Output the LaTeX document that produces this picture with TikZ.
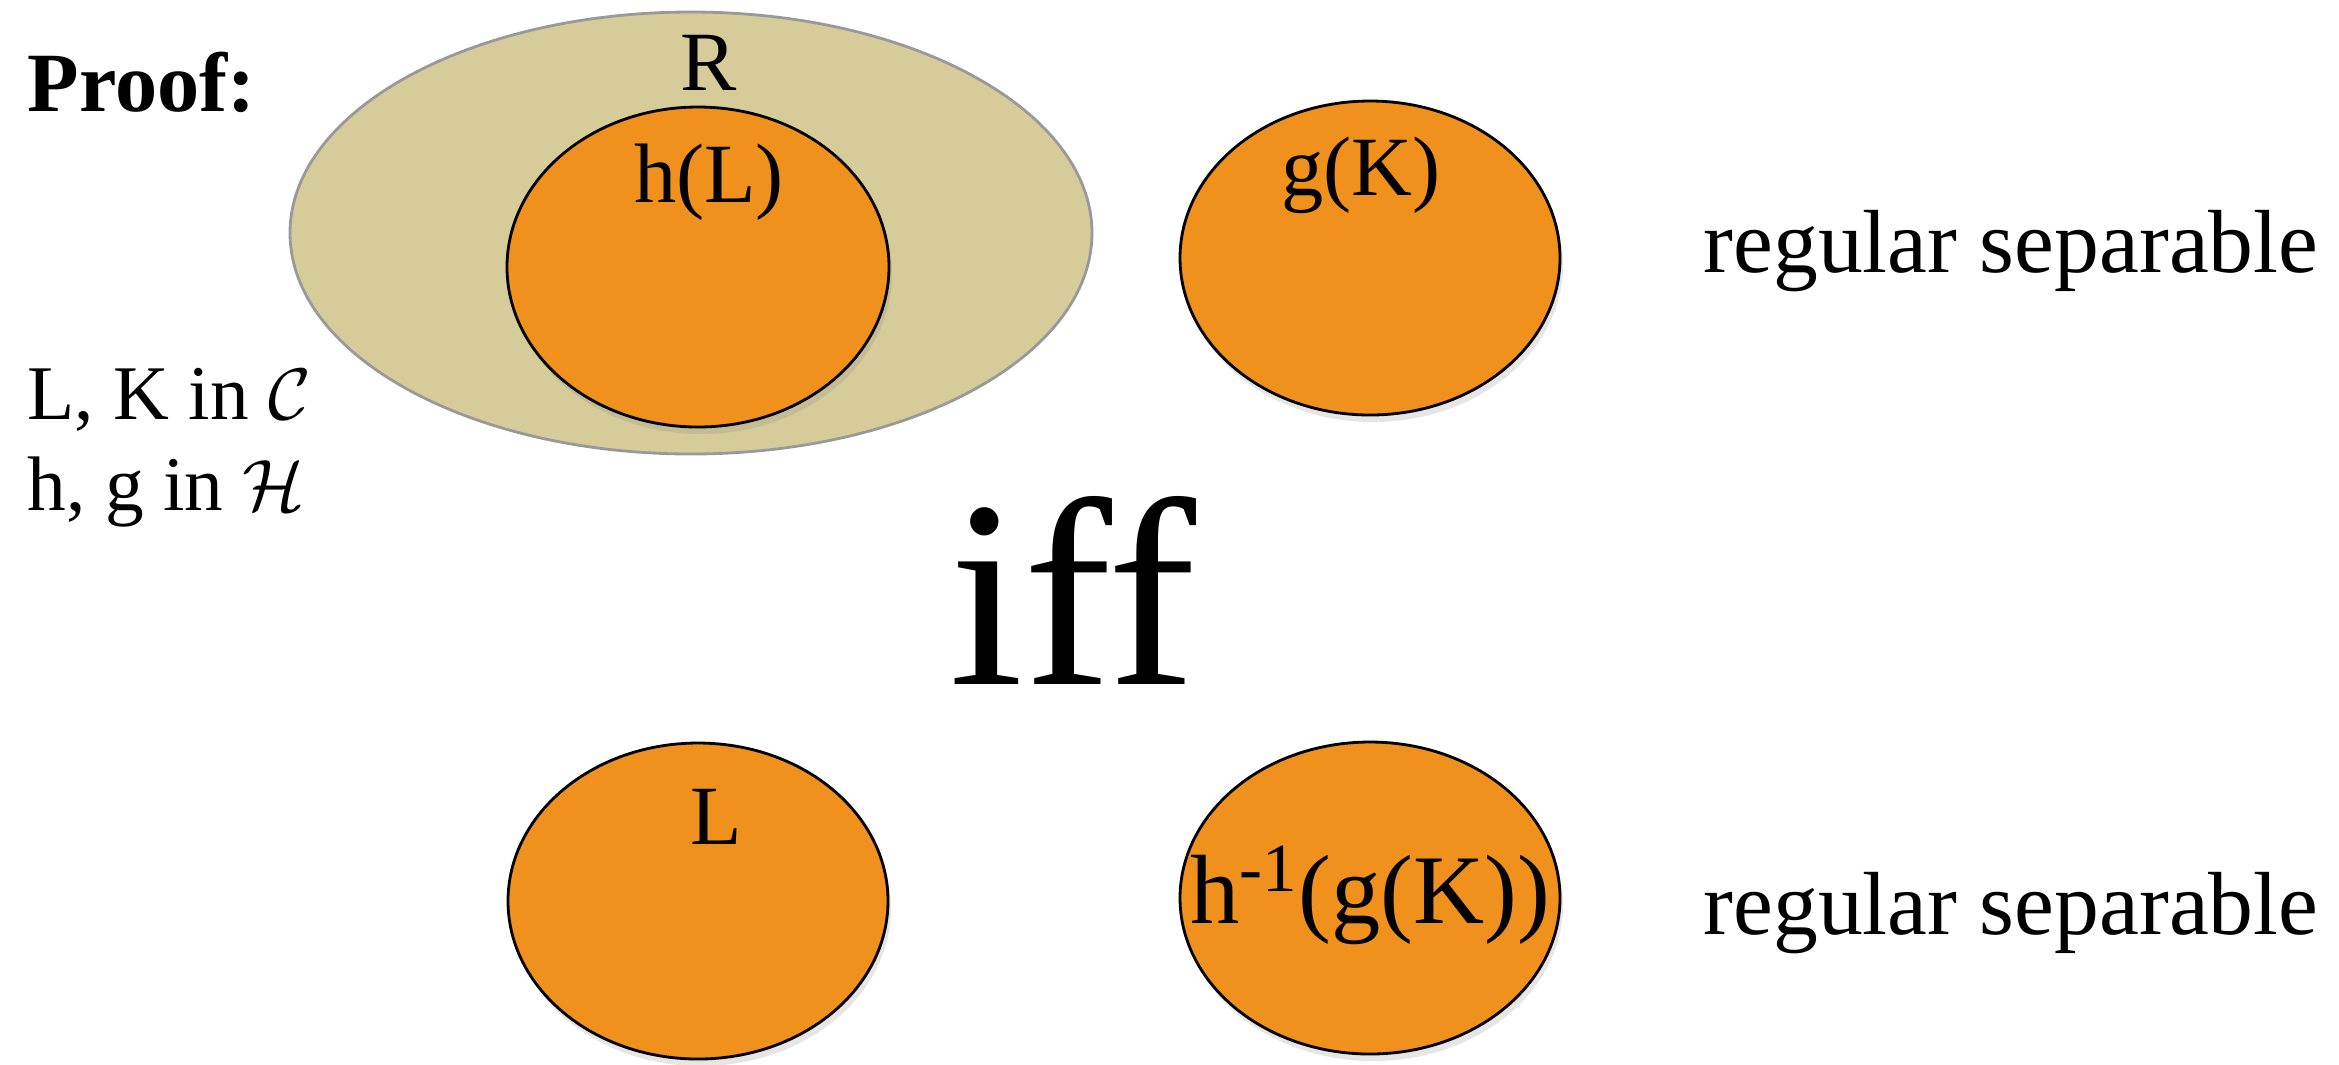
\documentclass[tikz,border=0pt]{standalone}
\usepackage{fontspec}
\setmainfont{Liberation Serif}
\usepackage{xcolor}
\usepackage{tikz}
\usetikzlibrary{positioning, shapes.geometric, shadows}

\definecolor{setorange}{RGB}{240,145,30}
\definecolor{settan}{RGB}{214,204,153}

\begin{document}
\begin{tikzpicture}[
            blob/.style={ellipse, draw=black, thick, fill=setorange, inner sep=0pt,
                         drop shadow={opacity=0.2, shadow xshift=0.3mm, shadow yshift=-0.7mm}},
            region/.style={ellipse, draw=gray!80, thick, fill=settan, inner sep=0pt},
            lbl/.style={font=\fontsize{24}{28}\selectfont, inner sep=0pt},
            side/.style={lbl, anchor=west}
        ]
            \useasboundingbox (0,0) rectangle (23.39,-10.64);

            % Top row
            \node[region, minimum width=8.02cm, minimum height=4.42cm] (r) at (6.91,-2.33) {};
            \node[lbl] (rl) at (7.09,-0.63) {R};
            \node[blob, minimum width=3.82cm, minimum height=3.2cm] (hl) at (6.98,-2.67) {};
            \node[lbl] (hll) at (7.09,-1.82) {h(L)};
            \node[blob, minimum width=3.8cm, minimum height=3.14cm] (gk) at (13.70,-2.58) {};
            \node[lbl] (gkl) at (13.61,-1.75) {g(K)};
            \node[side, font=\fontsize{25.5}{30}\selectfont] (sep1) at (17.03,-2.51) {regular separable};

            % Left text
            \node[side, font=\fontsize{24}{28}\selectfont\bfseries] (proof) at (0.27,-0.82) {Proof:};
            \node[side, font=\fontsize{22}{26}\selectfont] (lk) at (0.27,-4.00) {L, K in $\mathcal{C}$};
            \node[side, font=\fontsize{22}{26}\selectfont] (hg) at (0.27,-4.92) {h, g in $\mathcal{H}$};

            % Middle
            \node[inner sep=0pt, font=\fontsize{76}{86}\selectfont] (iff) at (10.73,-5.90) {iff};

            % Bottom row
            \node[blob, minimum width=3.8cm, minimum height=3.16cm] (l) at (6.98,-9.01) {};
            \node[lbl] (ll) at (7.16,-8.17) {L};
            \node[blob, minimum width=3.8cm, minimum height=3.12cm] (hi) at (13.70,-8.98) {};
            \node[lbl, font=\fontsize{28}{32}\selectfont] (hil) at (13.70,-8.95) {h\textsuperscript{-1}(g(K))};
            \node[side, font=\fontsize{25.5}{30}\selectfont] (sep2) at (17.03,-9.13) {regular separable};
\end{tikzpicture}
\end{document}
